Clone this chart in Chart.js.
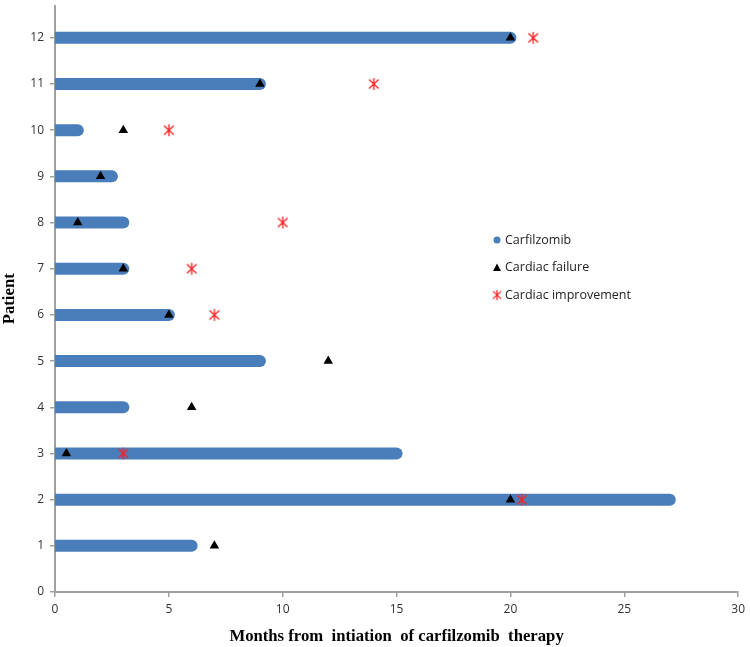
<!DOCTYPE html>
<html>
<head>
<meta charset="utf-8">
<script src="https://cdn.jsdelivr.net/npm/chart.js@4"></script>
<style>
  html, body { margin: 0; padding: 0; background: #fff; }
  #wrap { width: 750px; height: 647px; }
</style>
</head>
<body>
<div id="wrap"><canvas id="swimmer"></canvas></div>
<script>
// patient number and months on carfilzomib
const patients = [1, 2, 3, 4, 5, 6, 7, 8, 9, 10, 11, 12];
const treatmentMonths = [6, 27, 15, 3, 9, 5, 3, 3, 2.5, 1, 9, 20];
// cardiac failure onset (months)
const failureMonths = [7, 20, 0.5, 6, 12, 5, 3, 1, 2, 3, 9, 20];
// cardiac improvement (months), null = none
const improvementMonths = [null, 20.5, 3, null, null, 7, 6, 10, null, 5, 14, 21];
const xTicks = [0, 5, 10, 15, 20, 25, 30];
const yTicks = [0, 1, 2, 3, 4, 5, 6, 7, 8, 9, 10, 11, 12];

const BLUE = '#4a7ebb';

// six-armed asterisk like the Excel marker
function makeStar(size, color) {
    const c = document.createElement('canvas');
    c.width = size; c.height = size;
    const g = c.getContext('2d');
    const m = size / 2, r = size / 2 - 1;
    g.strokeStyle = color;
    g.lineWidth = 1.3;
    g.beginPath();
    g.moveTo(m, m - r); g.lineTo(m, m + r);
    const dx = r * 0.8, dy = r * 0.75;
    g.moveTo(m - dx, m - dy); g.lineTo(m + dx, m + dy);
    g.moveTo(m - dx, m + dy); g.lineTo(m + dx, m - dy);
    g.stroke();
    return c;
}
const starImg = makeStar(14, '#ff2020');

const datasets = [];

// triangles and stars on top of the bars
datasets.push({
    label: 'Cardiac failure',
    type: 'scatter',
    data: patients.map((p, i) => ({ x: failureMonths[i], y: p })),
    pointStyle: 'triangle',
    pointRadius: 5.5,
    backgroundColor: '#000',
    borderColor: '#000',
    borderWidth: 0,
    clip: false,
    order: 1
});
datasets.push({
    label: 'Cardiac improvement',
    type: 'scatter',
    data: patients.map((p, i) => ({ x: improvementMonths[i], y: p })).filter(d => d.x !== null),
    pointStyle: starImg,
    clip: false,
    order: 0
});

// one thick line per patient for the treatment bar
patients.forEach((p, i) => {
    datasets.push({
        label: 'Carfilzomib',
        type: 'line',
        data: [{ x: 0, y: p }, { x: treatmentMonths[i], y: p }],
        borderColor: BLUE,
        borderWidth: 12,
        borderCapStyle: 'round',
        pointRadius: 0,
        fill: false,
        clip: { left: 0, top: false, right: false, bottom: false },
        order: 2
    });
});

const legendItems = [
    { text: 'Carfilzomib', kind: 'circle' },
    { text: 'Cardiac failure', kind: 'triangle' },
    { text: 'Cardiac improvement', kind: 'star' }
];

const insideLegend = {
    id: 'insideLegend',
    afterDraw(chart) {
        const ctx = chart.ctx;
        ctx.save();
        ctx.font = '12.5px "Open Sans", sans-serif';
        ctx.textBaseline = 'middle';
        legendItems.forEach((it, i) => {
            const y = 240 + i * 27.5, x = 497;
            if (it.kind === 'circle') {
                ctx.fillStyle = BLUE;
                ctx.beginPath(); ctx.arc(x, y, 3.5, 0, Math.PI * 2); ctx.fill();
            } else if (it.kind === 'triangle') {
                ctx.fillStyle = '#000';
                ctx.beginPath(); ctx.moveTo(x, y - 4); ctx.lineTo(x + 4, y + 3.5); ctx.lineTo(x - 4, y + 3.5); ctx.closePath(); ctx.fill();
            } else {
                ctx.drawImage(starImg, x - 6, y - 6, 12, 12);
            }
            ctx.fillStyle = '#222';
            ctx.fillText(it.text, x + 8, y);
        });
        ctx.restore();
    }
};

new Chart(document.getElementById('swimmer'), {
    type: 'scatter',
    data: { datasets: datasets },
    options: {
        responsive: true,
        maintainAspectRatio: false,
        animation: false,
        layout: { padding: { top: 3, right: 10, left: 0, bottom: 0 } },
        plugins: {
            legend: { display: false },
            tooltip: { enabled: false }
        },
        scales: {
            x: {
                type: 'linear',
                min: 0, max: 30,
                afterBuildTicks: s => { s.ticks = xTicks.map(v => ({ value: v })); },
                afterFit: s => { s.height = 55; },
                grid: { display: true, drawOnChartArea: false, drawTicks: true, tickLength: 5, color: '#a0a0a0', lineWidth: 1.5 },
                border: { color: '#a0a0a0', width: 2 },
                ticks: { color: '#333', font: { family: 'Open Sans', size: 12 }, padding: 5 },
                title: {
                    display: true,
                    text: 'Months from  intiation  of carfilzomib  therapy',
                    color: '#000',
                    font: { family: 'Liberation Serif', size: 16.7, weight: 'bold' },
                    padding: { top: 2, bottom: 0 }
                }
            },
            y: {
                type: 'linear',
                min: 0, max: 12.7,
                afterBuildTicks: s => { s.ticks = yTicks.map(v => ({ value: v })); },
                afterFit: s => { s.width = 55; s.paddingTop = 0; s.paddingBottom = 0; },
                grid: { display: true, drawOnChartArea: false, drawTicks: true, tickLength: 5, color: '#a0a0a0', lineWidth: 1.5 },
                border: { color: '#a0a0a0', width: 2 },
                ticks: { color: '#333', font: { family: 'Open Sans', size: 12 }, padding: 6 },
                title: {
                    display: true,
                    text: 'Patient',
                    color: '#000',
                    font: { family: 'Liberation Serif', size: 16.7, weight: 'bold' },
                    padding: { top: 0, bottom: 2 }
                }
            }
        }
    },
    plugins: [insideLegend]
});
</script>
</body>
</html>
